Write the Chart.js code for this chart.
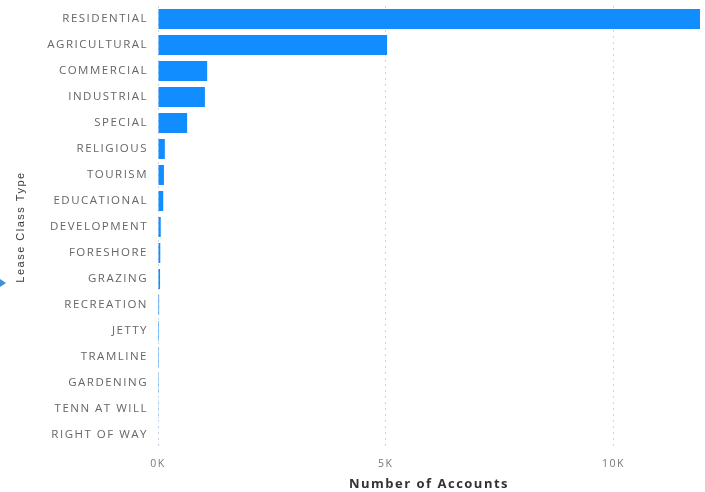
<!DOCTYPE html>
<html>
<head>
<meta charset="utf-8">
<script src="https://cdn.jsdelivr.net/npm/chart.js@4"></script>
<style>
    html, body {
        margin: 0;
        padding: 0;
        background: #fff;
    }
    #box {
        position: relative;
        width: 705px;
        height: 492px;
    }
</style>
</head>
<body>
<div id="box"><canvas id="lease-chart"></canvas></div>
<script>
const leaseTypes = ['RESIDENTIAL', 'AGRICULTURAL', 'COMMERCIAL', 'INDUSTRIAL', 'SPECIAL', 'RELIGIOUS', 'TOURISM',
    'EDUCATIONAL', 'DEVELOPMENT', 'FORESHORE', 'GRAZING', 'RECREATION', 'JETTY', 'TRAMLINE', 'GARDENING',
    'TENN AT WILL', 'RIGHT OF WAY']
const accounts = [11900, 5030, 1080, 1030, 640, 150, 130, 115, 60, 50, 45, 25, 22, 20, 18, 15, 12]
const xTicks = [0, 5000, 10000]

// canvas loses letterSpacing on resize, so set it again before every layout/draw
const spacing = {
    id: 'spacing',
    beforeLayout(chart) {
        chart.ctx.letterSpacing = '1.5px'
    },
    beforeDraw(chart) {
        chart.ctx.letterSpacing = '1.5px'
    }
}

// little drill marker next to the axis title
const marker = {
    id: 'marker',
    afterDraw(chart) {
        const ctx = chart.ctx
        const y = (chart.chartArea.top + chart.chartArea.bottom) / 2 + 56
        ctx.save()
        ctx.fillStyle = '#3b8fdc'
        ctx.beginPath()
        ctx.moveTo(0, y - 4)
        ctx.lineTo(6, y)
        ctx.lineTo(0, y + 4)
        ctx.closePath()
        ctx.fill()
        ctx.restore()
    }
}

new Chart(document.getElementById('lease-chart'), {
    type: 'bar',
    data: {
        labels: leaseTypes,
        datasets: [{
            label: 'Number of Accounts',
            data: accounts,
            backgroundColor: '#118DFF',
            barPercentage: 0.77,
            categoryPercentage: 1
        }]
    },
    options: {
        indexAxis: 'y',
        responsive: true,
        maintainAspectRatio: false,
        animation: false,
        layout: {
            padding: {top: 6, right: 5, bottom: 0, left: 0}
        },
        plugins: {
            legend: {display: false},
            tooltip: {enabled: false}
        },
        scales: {
            x: {
                min: 0,
                max: Math.max(...accounts),
                afterBuildTicks(scale) {
                    scale.ticks = xTicks.map(v => ({value: v}))
                },
                afterFit(scale) {
                    scale.height = 44
                },
                ticks: {
                    includeBounds: false,
                    padding: 10,
                    color: '#777',
                    font: {family: 'Open Sans', size: 10.5},
                    callback: v => (v / 1000) + 'K'
                },
                grid: {
                    color: '#d4d4d4',
                    drawTicks: false
                },
                border: {display: false, dash: [2, 4]},
                title: {
                    display: true,
                    text: 'Number of Accounts',
                    color: '#333',
                    font: {family: 'Open Sans', size: 13, weight: 'bold'},
                    padding: {top: 3, bottom: 0}
                }
            },
            y: {
                afterFit(scale) {
                    scale.width = 158
                    scale.paddingTop = 0
                    scale.paddingBottom = 0
                },
                ticks: {
                    padding: 2,
                    color: '#666',
                    font: {family: 'Open Sans', size: 11.5}
                },
                grid: {display: false},
                border: {display: false},
                title: {
                    display: true,
                    text: 'Lease Class Type',
                    color: '#3a3a3a',
                    font: {family: 'Liberation Sans', size: 11},
                    padding: {top: 14, bottom: 0}
                }
            }
        }
    },
    plugins: [spacing, marker]
})
</script>
</body>
</html>
